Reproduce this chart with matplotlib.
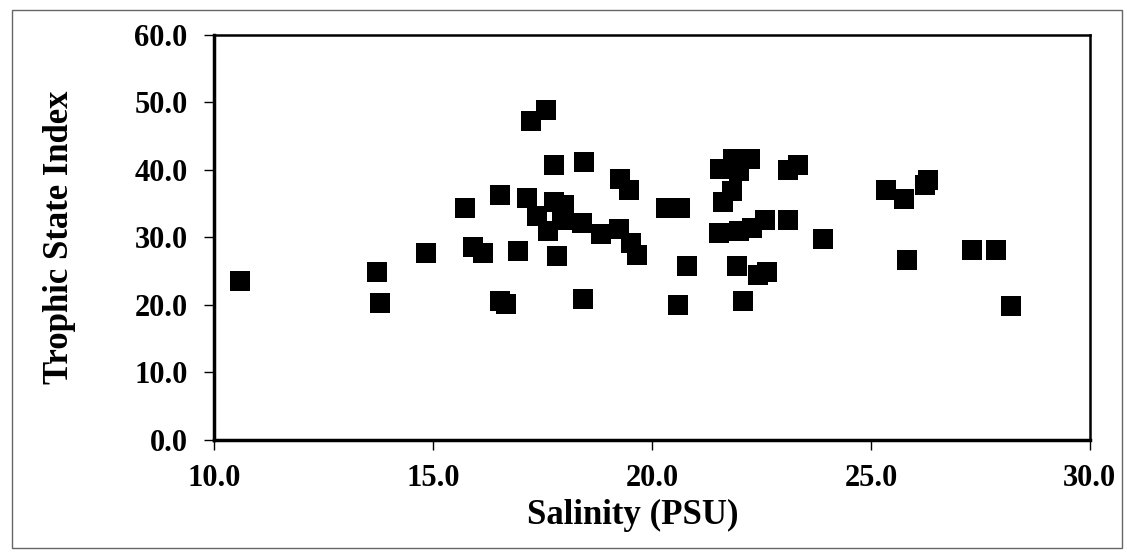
import matplotlib
matplotlib.use("Agg")
import matplotlib.pyplot as plt
from matplotlib.patches import Rectangle

# salinity (PSU) and trophic state index
salinity = [10.60, 13.73, 13.79, 14.83, 15.73, 15.92, 16.13, 16.54, 16.53, 16.66,
            16.93, 17.15, 17.24, 17.58, 17.37, 17.77, 17.77, 17.98, 17.94, 17.62,
            17.83, 18.45, 18.40, 18.42, 18.83, 19.25, 19.27, 19.47, 19.52, 19.66,
            20.33, 20.63, 20.59, 20.80, 21.56, 21.85, 22.25, 21.98, 21.83, 21.62,
            21.54, 21.98, 22.29, 22.59, 21.95, 22.43, 22.63, 22.07, 23.11, 23.33,
            23.11, 23.91, 25.35, 25.76, 26.23, 26.31, 25.82, 27.31, 27.86, 28.20]
tsi = [23.6, 24.8, 20.3, 27.7, 34.3, 28.5, 27.7, 36.3, 20.6, 20.1,
       28.0, 35.8, 47.3, 48.9, 33.1, 40.7, 35.3, 34.8, 32.6, 30.9,
       27.2, 41.1, 32.1, 20.9, 30.5, 31.2, 38.7, 37.0, 29.1, 27.4,
       34.4, 34.4, 20.0, 25.8, 40.1, 41.6, 41.6, 39.8, 36.8, 35.2,
       30.6, 30.9, 31.4, 32.6, 25.7, 24.4, 24.8, 20.6, 40.0, 40.7,
       32.6, 29.7, 37.0, 35.7, 37.7, 38.5, 26.7, 28.2, 28.2, 19.9]

xticks = [10, 15, 20, 25, 30]
yticks = [0, 10, 20, 30, 40, 50, 60]

plt.rcParams['font.family'] = ['Liberation Serif', 'DejaVu Serif']
plt.rcParams['font.weight'] = 'bold'

fig = plt.figure(figsize=(11.27, 5.52), dpi=100)
ax = fig.add_axes([0.190, 0.203, 0.777, 0.734])

ax.scatter(salinity, tsi, marker='s', s=200, color='black', linewidths=0, zorder=3)

ax.set_xlim(10, 30)
ax.set_ylim(0, 60)
ax.set_xticks(xticks)
ax.set_yticks(yticks)
ax.set_xticklabels(["%.1f" % v for v in xticks])
ax.set_yticklabels(["%.1f" % v for v in yticks])
ax.tick_params(direction='out', length=7, width=1, labelsize=22, pad=12)
ax.tick_params(axis='x', pad=10)

for side in ax.spines.values():
    side.set_linewidth(1.8)
ax.spines['left'].set_linewidth(2.5)
ax.spines['bottom'].set_linewidth(2.5)

ax.set_xlabel("Salinity (PSU)", fontsize=25, fontweight='bold')
ax.xaxis.set_label_coords(0.478, -0.145)
ax.set_ylabel("Trophic State Index", fontsize=25, fontweight='bold', labelpad=42)

# thin outer frame of the scanned page
fig.patches.append(Rectangle((12 / 1127, 4 / 552), 1110 / 1127, 538 / 552,
                             transform=fig.transFigure, fill=False,
                             edgecolor='0.4', linewidth=1))

fig.savefig("out.png", dpi=100)
